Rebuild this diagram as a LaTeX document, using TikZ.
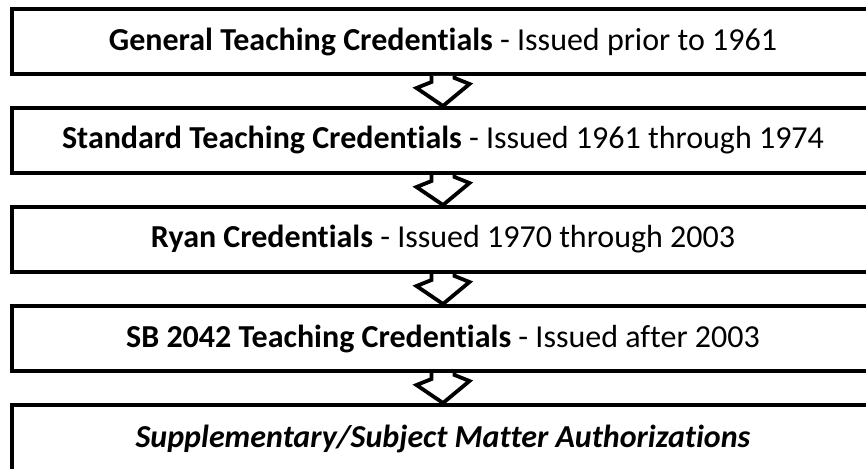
\documentclass[tikz,border=0pt]{standalone}
\usepackage{fontspec}
\setmainfont[Ligatures=CommonOff]{Carlito}
\begin{document}
\begin{tikzpicture}[x=1pt,y=-1pt,
  credbox/.style={draw=black, line width=4pt, minimum width=862pt, minimum height=65pt, inner sep=0pt, anchor=north, font=\fontsize{32}{37}\selectfont},
  flowarrow/.style={draw=black, line width=3.8pt, line join=miter, fill=white}]
\useasboundingbox (0,0) rectangle (866,468);
\node[credbox] (b1) at (443,7) {\textbf{General Teaching Credentials} - Issued prior to 1961};
\node[credbox] (b2) at (443,106) {\textbf{Standard Teaching Credentials} - Issued 1961 through 1974};
\node[credbox] (b3) at (443,205) {\textbf{Ryan Credentials} - Issued 1970 through 2003};
\node[credbox] (b4) at (443,304) {\textbf{SB 2042 Teaching Credentials} - Issued after 2003};
\node[credbox, minimum height=68pt] (b5) at (443,403) {\textbf{\itshape Supplementary/Subject Matter Authorizations}};
\foreach \a/\b in {b1/b2,b2/b3,b3/b4,b4/b5}{
  \draw[flowarrow] ([xshift=-11.5pt]\a.south) -- ++(0,6) -- ++(-15,6) -- (\b.north) -- ++(26.5,-22) -- ++(-15,-6) -- ([xshift=11.5pt]\a.south);
}
\end{tikzpicture}
\end{document}
